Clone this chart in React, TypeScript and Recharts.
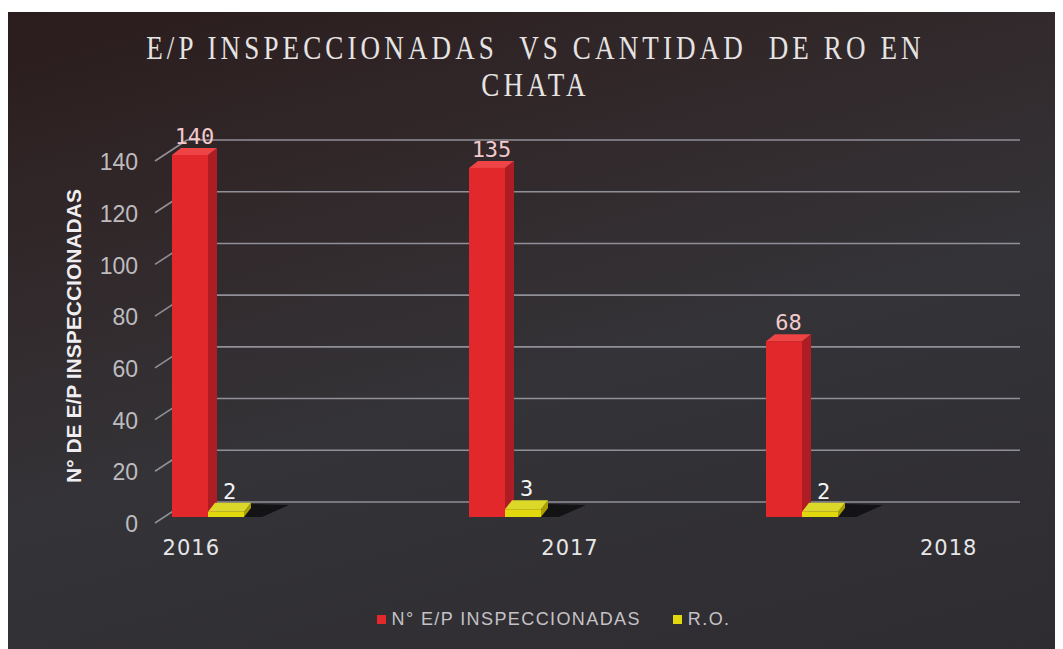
import { BarChart, Bar, XAxis, YAxis, CartesianGrid, LabelList } from 'recharts';

const years = ['2016', '2017', '2018'];
const inspected = [140, 135, 68];
const roCount = [2, 3, 2];
const seriesNames = ['N° E/P INSPECCIONADAS', 'R.O.'];
const yTicks = [0, 20, 40, 60, 80, 100, 120, 140];

const data = years.map((year, i) => ({ year, inspected: inspected[i], ro: roCount[i] }));

const RED = { front: '#e3282c', side: '#ad1d23', top: '#ee4446', dx: 9, dy: 7 };
const YELLOW = { front: '#e2d80e', side: '#a99f00', top: '#dcd82a', dx: 7, dy: 9 };

function Block3D(props: any) {
  const { x, y, width, height, colors, shadow } = props;
  if (x == null || y == null) return null;
  const w = width;
  const h = Math.max(height, 0);
  const { dx, dy } = colors;
  return (
    <g>
      {shadow && (
        <polygon
          points={`${x + w - 2},${y + h} ${x + w + dx},${y + h - dy - 4} ${x + w + dx + 38},${y + h - dy - 3} ${x + w + 18},${y + h}`}
          fill="#0a0a0c"
          opacity={0.75}
        />
      )}
      <polygon
        points={`${x + w},${y} ${x + w + dx},${y - dy} ${x + w + dx},${y + h - dy} ${x + w},${y + h}`}
        fill={colors.side}
      />
      <polygon
        points={`${x},${y} ${x + dx},${y - dy} ${x + w + dx},${y - dy} ${x + w},${y}`}
        fill={colors.top}
      />
      <rect x={x} y={y} width={w} height={h} fill={colors.front} />
    </g>
  );
}

function ValueLabel(props: any) {
  const { x, y, width, value, color, colors } = props;
  return (
    <text
      x={x + width / 2 + colors.dx / 2}
      y={y - colors.dy - 4}
      textAnchor="middle"
      fill={color}
      fontSize={22}
      fontFamily="DejaVu Sans Mono, monospace"
    >
      {value}
    </text>
  );
}

// grid sits on the back wall: diagonal from the axis, then a flat line
function WallLine(props: any) {
  const { x1, x2, y1 } = props;
  return (
    <g>
      <line x1={x1 - 2} y1={y1 + 6} x2={x1 + 30} y2={y1 - 15} stroke="#918f97" strokeWidth={1.6} />
      <line x1={x1 + 30} y1={y1 - 15} x2={x2 + 30} y2={y1 - 15} stroke="#918f97" strokeWidth={1.6} />
    </g>
  );
}

function YearTick(props: any) {
  const { x, y, payload } = props;
  return (
    <text
      x={x}
      y={y}
      dy={6}
      textAnchor="middle"
      fill="#e6e6e6"
      fontSize={21}
      fontFamily="DejaVu Sans, sans-serif"
      letterSpacing={1}
    >
      {payload.value}
    </text>
  );
}

export default function App() {
  return (
    <div
      style={{
        position: 'relative',
        width: 1055,
        height: 637,
        marginTop: 4,
        fontFamily: 'Liberation Sans, Arial, sans-serif',
        background:
          'linear-gradient(165deg, #2b1c1d 0%, #312729 25%, #343337 55%, #2e2c31 100%)',
        overflow: 'hidden',
      }}
    >
      <div
        style={{
          position: 'absolute',
          top: 18,
          left: 0,
          width: 1055,
          textAlign: 'center',
          color: '#e6e3e3',
          fontFamily: 'Liberation Serif, serif',
          fontSize: 33,
          lineHeight: '37px',
          letterSpacing: 5,
          whiteSpace: 'pre',
          transform: 'scaleX(0.82)',
        }}
      >
        <div>E/P INSPECCIONADAS  VS CANTIDAD  DE RO EN</div>
        <div>CHATA</div>
      </div>

      <BarChart
        width={1055}
        height={637}
        data={data}
        barSize={36}
        barGap={0}
        margin={{ top: 143, right: 73, left: 40, bottom: 92 }}
      >
        <CartesianGrid vertical={false} horizontal={(p: any) => <WallLine key={p.key} {...p} />} />
        <XAxis xAxisId="bars" dataKey="year" hide padding={{ left: -98, right: 40 }} />
        <XAxis
          xAxisId="labels"
          dataKey="year"
          height={40}
          axisLine={false}
          tickLine={false}
          tickSize={0}
          tick={<YearTick />}
          padding={{ left: -155, right: -148 }}
        />
        <YAxis
          width={109}
          domain={[0, 140]}
          ticks={yTicks}
          axisLine={false}
          tickLine={false}
          tickSize={0}
          tickMargin={19}
          tick={{ fill: '#bdbbbf', fontSize: 23, dy: 7 }}
          label={{
            value: 'N° DE E/P INSPECCIONADAS',
            angle: -90,
            position: 'insideLeft',
            offset: 26,
            style: { textAnchor: 'middle', fill: '#f0eef0', fontSize: 21, fontWeight: 'bold' },
          }}
        />
        <Bar
          xAxisId="bars"
          dataKey="inspected"
          name={seriesNames[0]}
          isAnimationActive={false}
          shape={(p: any) => <Block3D {...p} colors={RED} />}
        >
          <LabelList
            dataKey="inspected"
            content={(p: any) => <ValueLabel {...p} colors={RED} color="#f3c9cc" />}
          />
        </Bar>
        <Bar
          xAxisId="bars"
          dataKey="ro"
          name={seriesNames[1]}
          isAnimationActive={false}
          shape={(p: any) => <Block3D {...p} colors={YELLOW} shadow />}
        >
          <LabelList
            dataKey="ro"
            content={(p: any) => <ValueLabel {...p} colors={YELLOW} color="#f4f4f4" />}
          />
        </Bar>
      </BarChart>

      <div
        style={{
          position: 'absolute',
          top: 597,
          left: 18,
          width: 1055,
          display: 'flex',
          justifyContent: 'center',
          alignItems: 'center',
          color: '#c4c2c6',
          fontSize: 18,
          letterSpacing: 1.4,
        }}
      >
        <span style={{ display: 'inline-block', width: 9, height: 9, background: RED.front, marginRight: 6 }} />
        <span style={{ marginRight: 32 }}>{seriesNames[0]}</span>
        <span style={{ display: 'inline-block', width: 9, height: 9, background: YELLOW.front, marginRight: 6 }} />
        <span>{seriesNames[1]}</span>
      </div>
    </div>
  );
}
